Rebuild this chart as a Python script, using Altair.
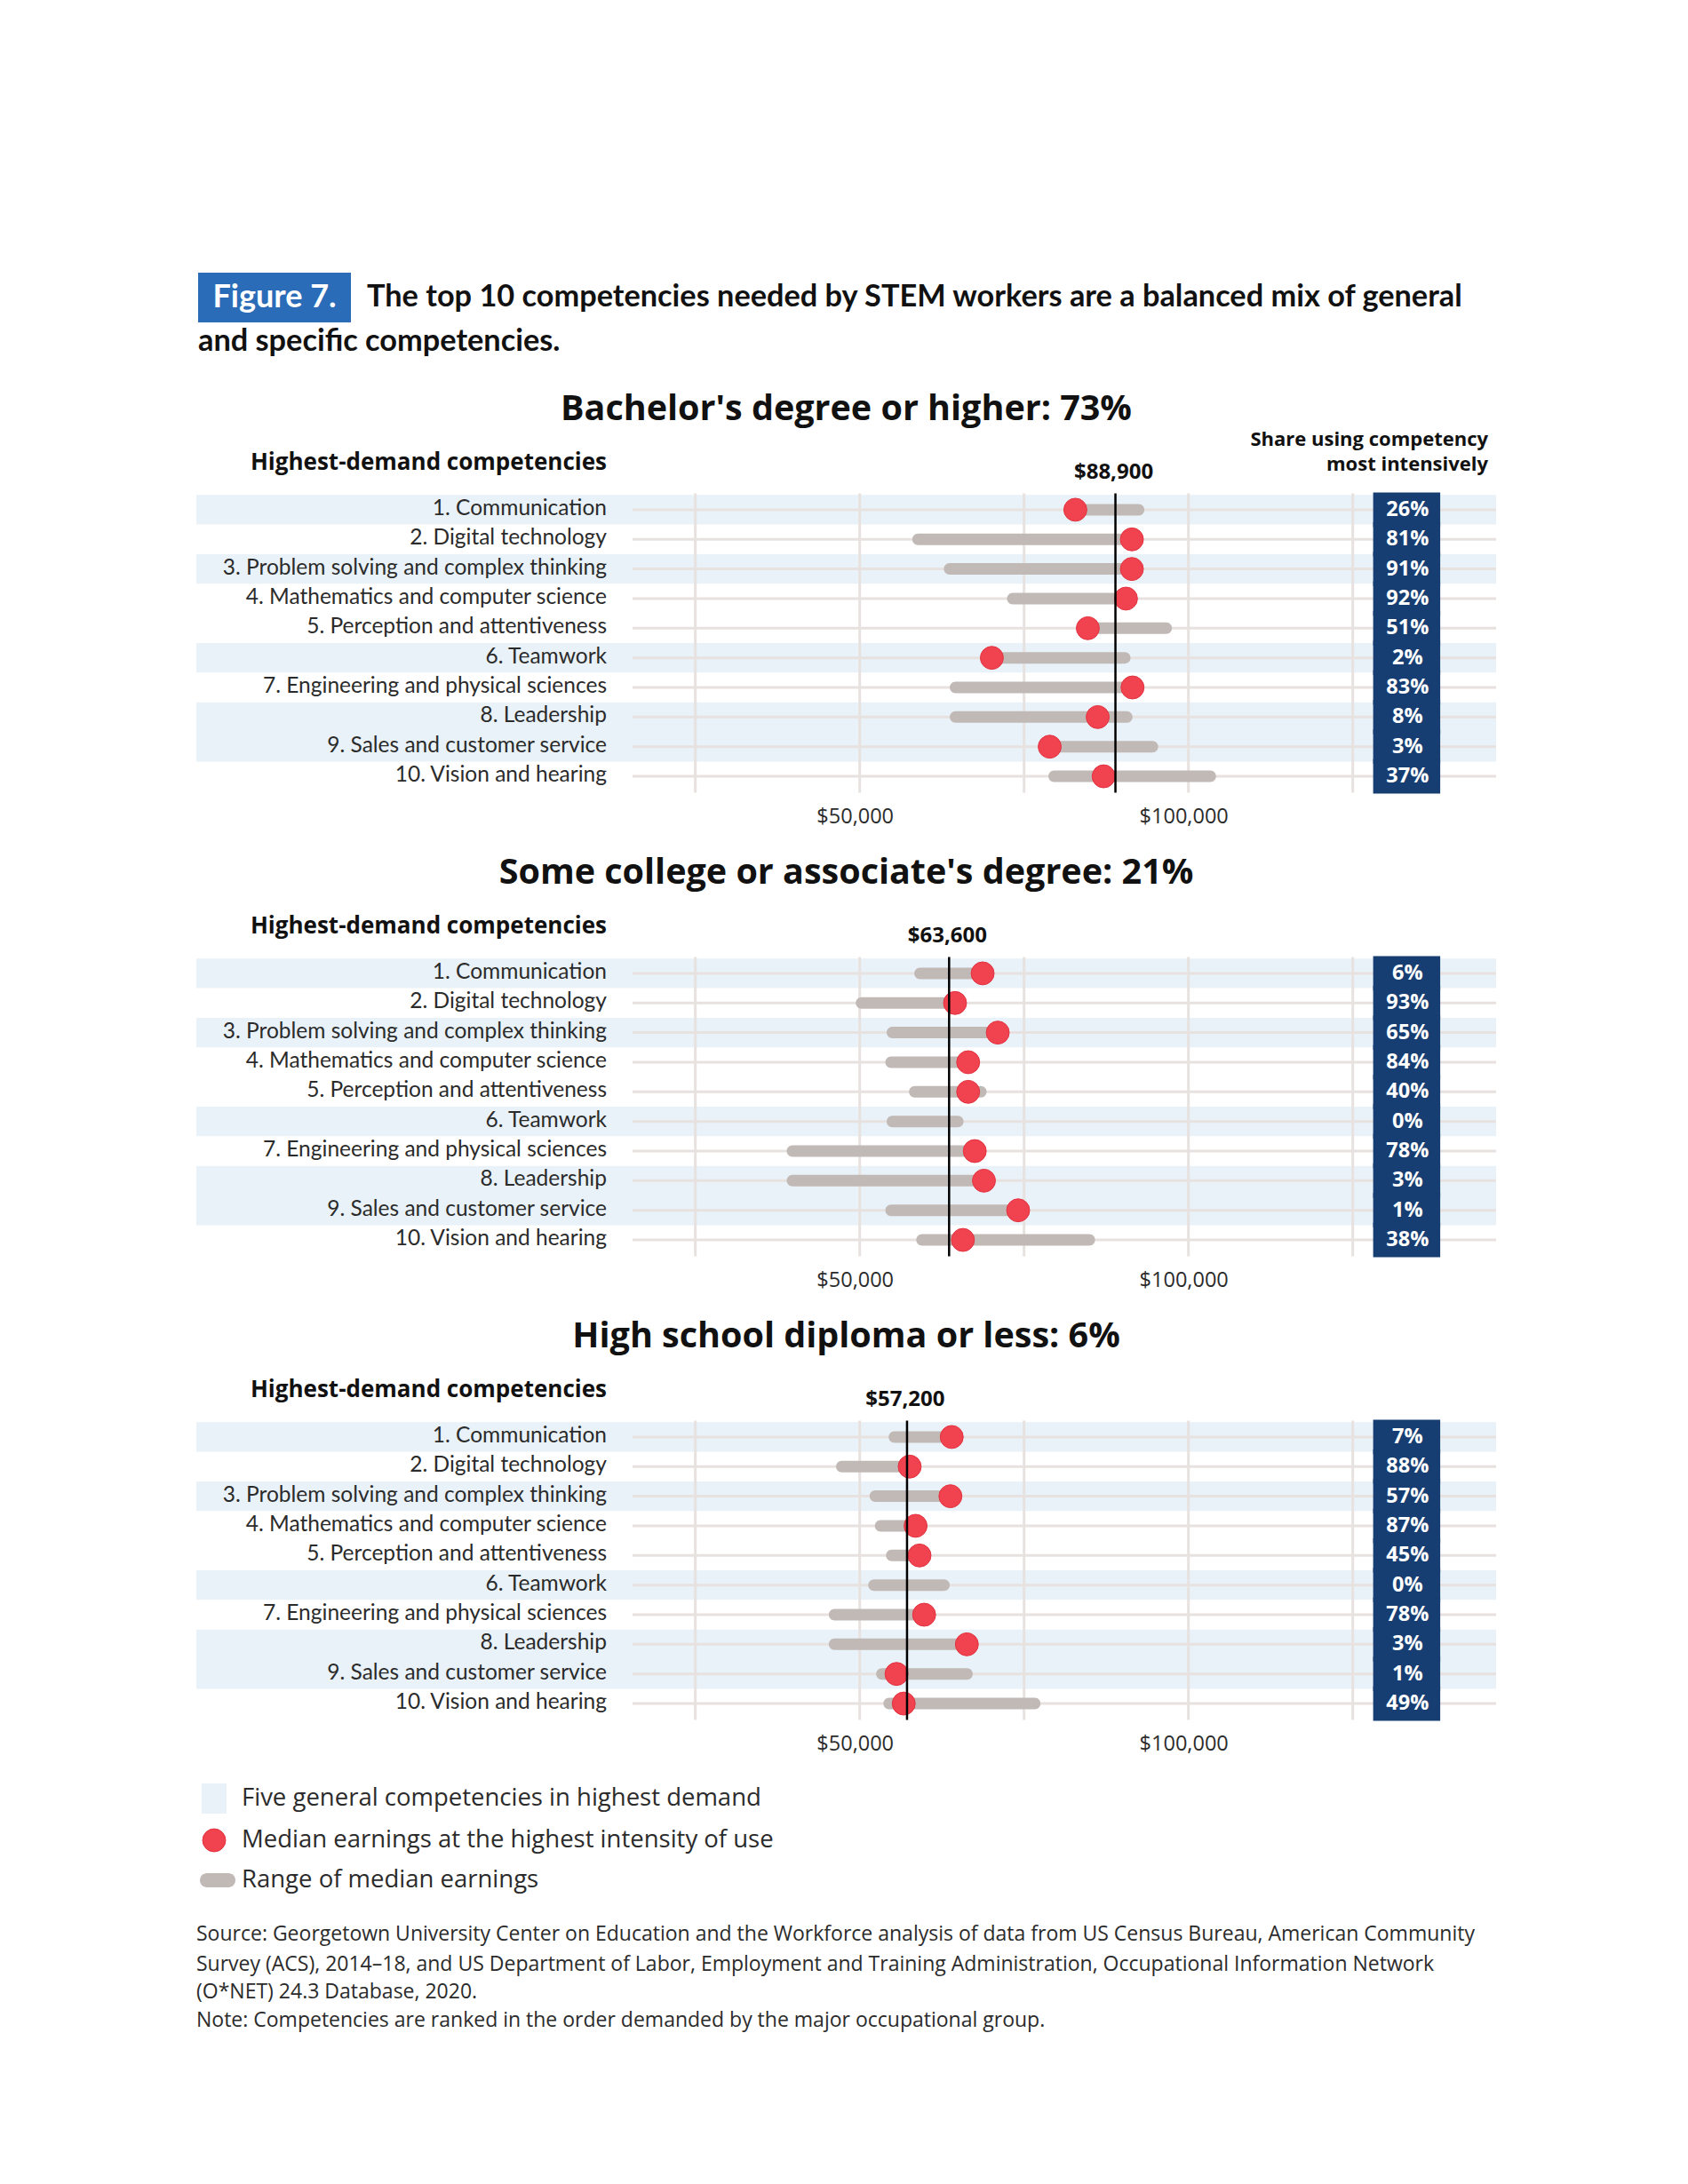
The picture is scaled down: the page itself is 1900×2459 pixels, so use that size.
import altair as alt
import pandas as pd

# ---------------- data ----------------
COMPETENCIES = [
    "1. Communication",
    "2. Digital technology",
    "3. Problem solving and complex thinking",
    "4. Mathematics and computer science",
    "5. Perception and attentiveness",
    "6. Teamwork",
    "7. Engineering and physical sciences",
    "8. Leadership",
    "9. Sales and customer service",
    "10. Vision and hearing",
]
GENERAL = [True, False, True, False, False, True, False, True, True, False]

PANEL_TITLES = [
    "Bachelor's degree or higher: 73%",
    "Some college or associate's degree: 21%",
    "High school diploma or less: 6%",
]
MEDIANS = [88900, 63600, 57200]
MEDIAN_LABELS = ["$88,900", "$63,600", "$57,200"]

# range of median earnings (low / high) and median earnings at highest intensity
BA_LOW = [82800, 58000, 62800, 72400, 84700, 70100, 63700, 63700, 78900, 78700]
BA_HIGH = [93300, 91400, 91400, 90500, 97500, 91200, 91500, 91500, 95400, 104200]
BA_DOT = [82800, 91400, 91400, 90500, 84700, 70100, 91500, 86200, 78900, 87100]
BA_SHARE = ["26%", "81%", "91%", "92%", "51%", "2%", "83%", "8%", "3%", "37%"]

SC_LOW = [58300, 49400, 54100, 53900, 57500, 54100, 38900, 38900, 53900, 58600]
SC_HIGH = [68700, 64500, 71000, 66500, 69300, 65800, 67500, 68900, 74100, 85800]
SC_DOT = [68700, 64500, 71000, 66500, 66500, None, 67500, 68900, 74100, 65700]
SC_SHARE = ["6%", "93%", "65%", "84%", "40%", "0%", "78%", "3%", "1%", "38%"]

HS_LOW = [54400, 46400, 51500, 52300, 54000, 51300, 45300, 45300, 52500, 53600]
HS_HIGH = [64000, 57600, 63800, 58500, 59100, 63700, 59800, 66300, 67200, 77500]
HS_DOT = [64000, 57600, 63800, 58500, 59100, None, 59800, 66300, 55600, 56700]
HS_SHARE = ["7%", "88%", "57%", "87%", "45%", "0%", "78%", "3%", "1%", "49%"]

GRID_TICKS = [25000, 50000, 75000, 100000, 125000]
AXIS_TICKS = [50000, 100000]
AXIS_LABELS = ["$50,000", "$100,000"]

FIG_LABEL = "Figure 7."
TITLE_LINES = [
    "The top 10 competencies needed by STEM workers are a balanced mix of general",
    "and specific competencies.",
]
SHARE_HEADER = ["Share using competency", "most intensively"]
LEFT_HEADER = "Highest-demand competencies"
LEGEND_TEXT = [
    "Five general competencies in highest demand",
    "Median earnings at the highest intensity of use",
    "Range of median earnings",
]
SOURCE_LINES = [
    "Source: Georgetown University Center on Education and the Workforce analysis of data from US Census Bureau, American Community",
    "Survey (ACS), 2014\u201318, and US Department of Labor, Employment and Training Administration, Occupational Information Network",
    "(O*NET) 24.3 Database, 2020.",
    "Note: Competencies are ranked in the order demanded by the major occupational group.",
]

PANELS = [
    (BA_LOW, BA_HIGH, BA_DOT, BA_SHARE),
    (SC_LOW, SC_HIGH, SC_DOT, SC_SHARE),
    (HS_LOW, HS_HIGH, HS_DOT, HS_SHARE),
]

# ---------------- layout / style ----------------
W = 1463
H = 522
FONT_LABEL = "Lato"
FONT = "Open Sans"
BAND = "#e9f2f8"
GRID = "#e7e2df"
BAR = "#c1b9b6"
DOT = "#f0424f"
DOT_EDGE = "#e2323f"
NAVY = "#173e72"
FIGBLUE = "#2a6cb8"
TXT = "#2b2b2b"

X_DOMAIN = [-50900, 146800]
Y_DOMAIN = [-2.956, 12.397]
BOX_X0, BOX_X1 = 128100, 138300
BOX_XC = (BOX_X0 + BOX_X1) / 2
ROW_TOP, ROW_BOTTOM = 0.45, 10.55

xs = alt.Scale(domain=X_DOMAIN, nice=False, zero=False)
ys = alt.Scale(domain=Y_DOMAIN, nice=False, zero=False, reverse=True)


def const_text(texts, xval, yvals, font=FONT, **mk):
    layers = []
    for t, yy in zip(texts, yvals):
        layers.append(
            alt.Chart(pd.DataFrame({"t": [t]}))
            .mark_text(font=font, **mk)
            .encode(x=alt.value(xval), y=alt.value(yy), text="t:N")
        )
    return layers


def panel(i):
    low, high, dot, share = PANELS[i]
    df = pd.DataFrame({
        "rank": list(range(1, 11)),
        "label": COMPETENCIES,
        "general": GENERAL,
        "low": low,
        "high": high,
        "dot": dot,
        "share": share,
    })
    df["y0"] = df["rank"] - 0.5
    df["y1"] = df["rank"] + 0.5
    df["b0"] = df["rank"] - 0.58
    df["b1"] = df["rank"] + 0.58
    df["bx0"] = BOX_X0
    df["bx1"] = BOX_X1
    df["bxc"] = BOX_XC
    base = alt.Chart(df)
    Y = alt.Y("rank:Q", scale=ys, axis=None)

    bands = base.transform_filter("datum.general").mark_rect(color=BAND).encode(
        x=alt.value(0), x2=alt.value(W),
        y=alt.Y("y0:Q", scale=ys, axis=None), y2="y1:Q")

    gdf = pd.DataFrame({"tick": GRID_TICKS})
    gdf["top"] = ROW_TOP
    gdf["bottom"] = ROW_BOTTOM
    grid = alt.Chart(gdf).mark_rule(color=GRID, strokeWidth=3).encode(
        x=alt.X("tick:Q", scale=xs, axis=None),
        y=alt.Y("top:Q", scale=ys, axis=None), y2="bottom:Q")

    rows = base.mark_rule(color=GRID, strokeWidth=3).encode(
        x=alt.value(491), x2=alt.value(W), y=Y)

    bars = base.mark_bar(color=BAR, size=13, cornerRadius=6.5).encode(
        x=alt.X("low:Q", scale=xs, axis=None), x2="high:Q", y=Y)

    dots = base.transform_filter("isValid(datum.dot)").mark_circle(
        color=DOT, size=670, opacity=1, stroke=DOT_EDGE, strokeWidth=1).encode(
        x=alt.X("dot:Q", scale=xs, axis=None), y=Y)

    mdf = pd.DataFrame({"m": [MEDIANS[i]], "lab": [MEDIAN_LABELS[i]],
                        "top": [ROW_TOP], "bottom": [ROW_BOTTOM]})
    med = alt.Chart(mdf)
    med_line = med.mark_rule(color="#000000", strokeWidth=2.5).encode(
        x=alt.X("m:Q", scale=xs, axis=None),
        y=alt.Y("top:Q", scale=ys, axis=None), y2="bottom:Q")
    med_lab = med.mark_text(font=FONT, fontSize=24, fontWeight="bold", color="#111111", dx=-2).encode(
        x=alt.X("m:Q", scale=xs, axis=None), y=alt.value(95), text="lab:N")

    box = base.mark_rect(color=NAVY).encode(
        x=alt.X("bx0:Q", scale=xs, axis=None), x2="bx1:Q",
        y=alt.Y("b0:Q", scale=ys, axis=None), y2="b1:Q")
    box_txt = base.mark_text(font=FONT, fontSize=23.5, fontWeight="bold", color="white", dx=1).encode(
        x=alt.X("bxc:Q", scale=xs, axis=None), y=Y, text="share:N")

    labels = base.mark_text(font=FONT_LABEL, fontSize=24.5, align="right", color=TXT, dy=-1).encode(
        x=alt.value(462), y=Y, text="label:N")

    axis_lab = alt.Chart(pd.DataFrame({"tick": AXIS_TICKS, "lab": AXIS_LABELS})).mark_text(
        font=FONT, fontSize=23.5, color=TXT, dx=-5).encode(
        x=alt.X("tick:Q", scale=xs, axis=None), y=alt.value(483), text="lab:N")

    layers = [bands, grid, rows, bars, dots, med_line, med_lab, box, box_txt, labels, axis_lab]
    layers += const_text([PANEL_TITLES[i]], W / 2, [24], fontSize=39.5, fontWeight="bold",
                         color="#111111", align="center")
    layers += const_text([LEFT_HEADER], 462, [84], fontSize=26, fontWeight="bold",
                         color="#111111", align="right")
    if i == 0:
        layers += const_text(SHARE_HEADER, 1454, [58, 86], fontSize=22, fontWeight="bold",
                             color="#111111", align="right")
    return alt.layer(*layers).properties(width=W, height=H)


# ---------------- header ----------------
hdr_box = alt.Chart(pd.DataFrame({"t": [FIG_LABEL]})).mark_rect(color=FIGBLUE).encode(
    x=alt.value(2), x2=alt.value(174), y=alt.value(9), y2=alt.value(65))
hdr_layers = [hdr_box]
hdr_layers += const_text([FIG_LABEL], 88, [37], font=FONT_LABEL, fontSize=36, fontWeight="bold",
                         color="white", align="center")
hdr_layers += const_text([TITLE_LINES[0]], 192, [37], font=FONT_LABEL, fontSize=34.3,
                         fontWeight="bold", color="#111111", align="left")
hdr_layers += const_text([TITLE_LINES[1]], 2, [87], font=FONT_LABEL, fontSize=34.3,
                         fontWeight="bold", color="#111111", align="left")
header = alt.layer(*hdr_layers).properties(width=W, height=139)

# ---------------- footer (legend + source) ----------------
f_sq = alt.Chart(pd.DataFrame({"t": [LEGEND_TEXT[0]]})).mark_rect(color=BAND).encode(
    x=alt.value(6), x2=alt.value(34), y=alt.value(5), y2=alt.value(39))
f_dot = alt.Chart(pd.DataFrame({"t": [LEGEND_TEXT[1]]})).mark_circle(
    color=DOT, size=670, opacity=1, stroke=DOT_EDGE, strokeWidth=1).encode(
    x=alt.value(20), y=alt.value(69))
f_pill = alt.Chart(pd.DataFrame({"t": [LEGEND_TEXT[2]]})).mark_rect(
    color=BAR, cornerRadius=8).encode(
    x=alt.value(4), x2=alt.value(44), y=alt.value(106), y2=alt.value(122))
f_layers = [f_sq, f_dot, f_pill]
f_layers += const_text(LEGEND_TEXT, 51, [22, 69, 114], fontSize=27.5, color=TXT, align="left")
f_layers += const_text(SOURCE_LINES, 0, [175, 209, 240, 272], fontSize=23, color=TXT, align="left")
footer = alt.layer(*f_layers).properties(width=W, height=300)

chart = alt.vconcat(header, panel(0), panel(1), panel(2), footer, spacing=0).properties(
    padding={"left": 213, "top": 290, "right": 10, "bottom": 10}
).configure_view(stroke=None)

chart.save("out.html", embed_options={"renderer": "svg", "actions": False})
